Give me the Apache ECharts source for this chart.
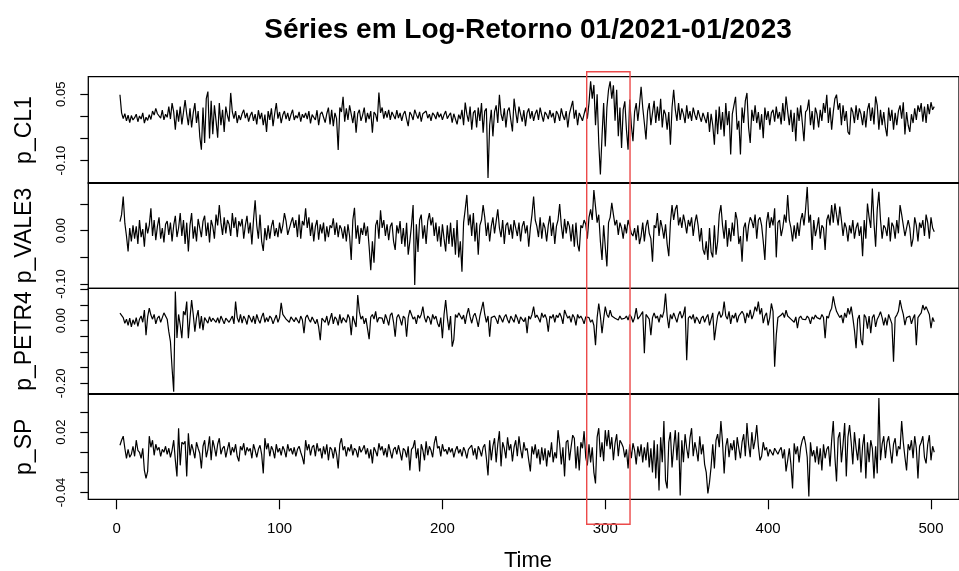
<!DOCTYPE html>
<html><head><meta charset="utf-8">
<script src="https://cdn.jsdelivr.net/npm/echarts@6/dist/echarts.min.js"></script>
<style>html,body{margin:0;padding:0;background:#fff}#c{width:959px;height:571px}</style>
</head><body><div id="c"></div>
<script>
// Time index of the first log-return
const timeStart = 2;
const seriesNames = ['p_CL1', 'p_VALE3', 'p_PETR4', 'p_SP'];
// Log-returns, in units of 0.001
const p_CL1 = [49,8,-5,6,-10,3,-14,2,-8,-3,
5,-12,1,-6,8,-15,-2,-9,4,-7,
12,3,18,6,10,-4,14,-8,5,-2,
22,-6,30,10,-30,15,-12,22,-18,9,
37,5,-20,18,-25,8,30,-15,12,-45,
-75,20,-60,40,56,-50,35,-40,25,-10,
-48,30,-20,15,-35,22,2,-12,53,10,
-5,12,-15,3,-8,6,15,-4,8,-12,
2,10,-10,5,-18,14,-6,8,-20,4,
-35,12,-8,18,-22,6,30,-5,10,-15,
3,12,-6,8,-10,4,15,-8,2,-4,
10,-12,5,-3,8,-6,12,-16,4,7,
-8,14,-20,5,10,-2,-14,6,20,-18,
15,-22,8,-5,-76,20,10,44,-12,18,
-8,25,5,-15,12,-37,6,15,-10,3,
20,-14,8,-6,12,-37,10,4,-12,54,
8,20,-5,12,-3,15,-8,10,2,-6,
14,-4,8,-10,5,12,-6,-22,10,3,
-8,15,4,-5,10,-12,6,2,12,-4,
5,-10,8,3,-6,10,-2,6,-8,4,
12,-5,2,8,-14,6,10,-18,4,-6,
15,-20,31,5,-12,22,-30,8,14,-25,
20,-10,30,-37,12,18,-139,-20,15,-45,
10,25,-15,49,5,-10,18,-25,12,20,
-8,-34,40,10,-15,22,5,-12,14,-22,
8,18,-5,12,-10,6,15,-8,20,3,
-12,10,4,-6,14,-2,8,-15,12,5,
-10,18,2,-8,12,-25,6,10,35,-5,
15,-20,8,12,-10,5,20,-5,30,79,
40,71,-20,50,-60,-131,-45,30,-68,20,
60,79,40,70,-10,60,-45,20,-71,15,
34,-30,-75,38,-20,-56,10,30,-10,25,
67,20,-15,-52,12,30,-20,8,35,-15,
22,-10,40,-25,15,5,-30,10,-64,20,
60,15,-10,30,-8,18,5,-15,25,-5,
12,-10,20,4,-8,14,0,-12,8,5,
-15,10,-35,6,-20,-64,15,-40,22,-30,
10,-45,30,-20,12,-86,5,25,44,-30,
-10,-86,20,-15,35,53,-25,-60,15,-10,
25,-15,10,-30,5,-49,20,-8,12,-20,
8,15,-12,22,-5,10,-18,30,-10,45,
12,-20,15,-35,8,-56,20,-10,25,-15,
-56,10,15,38,-20,12,-30,20,5,-25,
15,-10,30,8,49,-15,20,-30,10,40,
49,15,30,-20,25,-10,12,-35,-41,20,
10,-15,25,-8,18,5,-20,12,-25,15,
30,-10,20,-18,45,25,-30,15,-20,10,
-25,-45,20,-10,15,-30,8,-20,12,25,
-5,32,-41,10,-20,-35,5,-15,18,-8,
25,10,30,-12,22,-15,28,5,32,15,
22];
const p_VALE3 = [17,30,64,14,-10,-39,5,-20,10,-15,
8,-25,20,-12,3,-30,15,-5,10,42,
-10,20,-18,8,25,-15,5,-22,12,18,
-8,15,-20,10,28,-12,5,33,-10,20,
-25,15,-39,10,33,-15,8,-20,22,5,
-12,18,28,-10,15,-22,20,8,-15,30,
10,48,15,-8,25,-5,20,12,-10,33,
5,25,-12,18,8,22,-15,10,28,-5,
15,-26,20,57,10,-15,30,-20,-38,5,
-18,10,-15,8,20,-10,5,-12,15,-5,
10,33,18,-8,-11,15,25,5,20,-12,
30,-15,18,10,42,5,25,-10,15,-20,
8,20,-17,12,-5,15,-20,8,-12,10,
5,23,-8,15,-12,10,3,-15,8,-20,
12,-10,-55,20,43,-15,10,-25,5,-8,
15,-10,8,-30,-74,-20,-60,10,20,-15,
38,5,20,-10,12,-18,8,15,-20,-36,
10,-5,18,-25,5,-30,15,-45,-20,10,
48,-102,12,-40,20,30,-15,10,-25,18,
33,10,25,-10,15,-20,8,-30,12,-15,
-39,10,-25,15,-30,5,-45,20,-50,-20,
-77,15,40,67,10,30,-10,33,-20,15,
-45,10,20,48,25,-10,15,-20,8,25,
-5,18,40,5,-12,20,-25,10,15,-8,
12,-15,20,5,-10,15,-20,8,18,-5,
10,-30,5,30,64,20,8,-12,25,-15,
15,5,-20,10,28,-10,15,-25,8,20,
50,10,-15,22,-5,18,8,-20,12,-30,
15,-25,-39,10,5,20,12,-15,25,40,
20,76,45,15,30,-20,-55,10,-30,-67,
15,25,52,30,10,20,-8,15,5,-15,
12,-5,20,8,-5,-10,5,-18,10,-25,
-10,15,-20,8,20,-5,-15,-58,10,5,
33,-10,20,5,-15,12,-25,-48,15,48,
20,40,48,10,25,5,30,15,-5,20,
8,25,-10,15,30,10,-20,5,-35,-45,
-20,-55,5,-40,-50,10,-45,-20,30,48,
10,-15,20,-30,5,-20,15,-10,35,20,
-25,-10,-58,5,15,-20,10,25,18,5,
30,-15,20,25,10,-20,-55,15,35,5,
25,10,42,-50,15,20,-10,5,30,15,
67,20,5,-20,10,-15,15,-10,20,33,
10,40,82,15,30,-36,20,-10,5,25,
-15,10,5,-36,20,30,10,48,15,51,
30,10,45,20,-10,15,5,-20,10,-5,
20,-15,5,15,-10,8,-48,20,-15,51,
25,5,79,15,-30,40,73,20,-15,10,
5,-10,25,-20,15,8,-15,20,-5,48,
30,10,-10,-11,20,5,-30,-15,25,10,
-20,15,5,20,-10,30,15,-15,25,5,
-2];
const p_PETR4 = [24,18,10,-8,5,-15,8,-20,3,-12,
10,-18,5,15,-5,34,-46,12,40,18,
5,20,-10,8,15,-5,10,25,29,5,
-35,-67,-152,-227,93,-55,20,-13,-56,30,
18,61,-56,8,66,20,-35,10,34,-25,
15,-30,10,5,-8,13,-3,8,2,-5,
10,-8,15,3,-10,8,12,-5,5,15,
-10,61,10,-5,20,-8,15,5,-12,18,
8,-5,15,-10,20,3,-8,12,25,-5,
10,-3,15,8,-10,5,18,-5,10,57,
20,15,5,10,-5,12,8,-3,10,5,
-8,15,3,-40,10,18,5,-5,12,8,
-10,5,-20,-62,8,10,-5,15,-15,5,
24,-10,12,5,-15,20,-8,10,15,-5,
20,8,-46,15,10,-20,82,29,5,15,
-10,8,-25,-59,12,20,5,30,-5,10,
15,8,-10,20,5,-15,18,25,-5,-51,
10,20,5,-15,15,8,-51,10,34,20,
5,12,-10,18,8,20,45,10,-5,15,
8,-12,20,5,15,-8,-20,10,-56,20,
66,10,-30,15,-83,-60,20,10,25,15,
5,18,-10,20,40,12,-8,15,24,5,
-20,15,10,60,20,-5,15,-51,10,8,
15,5,-10,18,8,-5,12,20,3,-8,
15,10,-5,20,8,-10,12,18,-3,10,
-40,15,5,20,45,10,18,8,-5,25,
10,20,5,-35,15,8,20,-5,18,10,
25,12,-10,34,20,8,15,-5,20,10,
-15,20,8,15,5,-10,12,18,10,-5,
3,-15,-78,10,55,15,-40,5,45,20,
10,34,15,20,8,12,2,15,5,10,
8,15,2,20,12,-5,10,40,5,12,
8,29,-104,20,18,5,-46,10,25,8,
15,-5,20,10,30,87,15,-24,20,5,
25,10,-5,18,30,8,20,45,-126,8,
15,5,20,-8,12,3,-10,8,15,-5,
10,20,-15,5,25,-62,-20,15,30,10,
20,61,15,5,30,-10,18,8,25,-5,
15,10,30,20,-8,25,10,35,5,20,
45,30,61,20,40,-8,15,25,-15,10,
55,30,-147,-46,10,5,18,25,10,34,
15,20,5,10,-5,12,-24,8,15,5,
10,3,15,8,-10,12,5,18,10,15,
5,20,10,-56,15,8,29,40,78,50,
30,20,10,18,-8,25,10,40,20,45,
10,-30,-88,5,18,-60,-78,20,10,-25,
15,-40,10,20,-20,5,15,29,10,-15,
10,-15,20,5,-10,-131,10,18,30,66,
40,20,-14,10,5,15,-10,8,20,-78,
10,18,25,50,34,45,40,20,-24,10,
-3];
const p_SP = [7,12,16,4,-6,3,-5,-2,6,-4,
12,2,0,-6,4,-18,-26,-19,16,5,
12,-3,8,2,5,-4,3,0,6,-2,
4,-5,2,12,-8,-24,24,-13,10,8,
11,-24,19,-3,8,2,-6,10,4,-1,
-16,6,12,-5,3,16,-8,12,5,-4,
8,14,-2,4,6,-5,3,10,-3,5,
0,8,-4,-9,6,2,9,-3,5,1,
4,-6,8,2,-5,3,7,-2,-21,14,
3,9,-4,6,2,-6,8,0,4,-3,
6,2,-5,8,1,4,-2,5,-4,3,
6,0,-5,-12,12,2,8,-3,5,7,
-4,9,1,4,-6,6,-2,8,-8,5,
3,-6,5,-2,-16,8,14,2,6,-4,
5,1,8,-3,4,2,-5,6,0,3,
7,-2,4,-6,3,-11,5,1,-4,9,
2,6,-3,4,-5,8,1,-6,3,5,
-2,7,0,-8,4,2,-5,6,-18,3,
5,12,-6,4,-19,8,2,-8,11,-3,
6,2,-5,9,16,4,6,-4,8,1,
3,-2,5,0,4,-5,2,6,-1,3,
-4,5,1,-6,3,2,7,-3,4,-7,
6,2,-4,5,8,-6,-23,12,-8,6,
14,-10,8,21,-14,10,4,-6,15,2,
8,-9,5,12,-4,16,3,-6,10,2,
4,-8,-19,6,-2,8,-6,3,-12,5,
-8,4,-14,2,-5,10,-10,0,-6,22,
8,-12,5,-24,10,12,-8,5,17,14,
-16,6,-18,10,4,21,-5,-13,8,-10,
5,-20,-31,15,24,-5,10,-9,22,6,
22,3,15,-8,9,18,-4,12,9,5,
-5,3,-16,8,-6,9,2,-12,6,-4,
8,-10,5,-8,10,-15,4,-20,12,-26,
8,-38,15,-10,31,-28,-36,10,20,-15,
5,22,-8,20,-43,12,-10,18,4,-6,
14,24,-4,10,2,-9,16,-2,8,-12,
-20,-41,-30,-14,8,-16,12,18,5,31,
10,-21,6,14,-5,9,2,12,-8,15,
4,-6,10,18,-4,29,8,-5,20,3,
12,27,6,-8,-4,10,2,5,-4,3,
0,-3,4,1,-2,2,5,-6,3,-19,
-8,4,-12,-36,9,-2,6,-10,5,12,
16,8,-5,-44,10,-4,2,-10,6,-12,
4,-18,8,-6,3,6,-14,12,31,-5,
-29,14,20,-10,8,29,-24,15,27,10,
-12,20,4,-8,14,-20,6,18,-26,10,
-10,12,4,-26,6,-21,54,-8,8,16,
-6,10,16,2,-11,8,14,-4,6,3,
31,10,-5,-18,8,2,12,-6,16,4,
-26,6,10,16,-5,-11,8,17,-8,6,
0];
const seriesValues = [p_CL1, p_VALE3, p_PETR4, p_SP];

const xTickValues = [0, 100, 200, 300, 400, 500];
// visible part of the time axis (the plot continues past the right edge of the picture)
const xRange = [-17.44, 517.2];
const yTickValues = [
  [0.05, 0, -0.05, -0.10],
  [0.05, 0, -0.05, -0.10],
  [0.10, 0.05, 0, -0.05, -0.10, -0.15, -0.20],
  [0.04, 0.02, 0, -0.02, -0.04]
];
const yLabelValues = [[0.05, -0.10], [0, -0.10], [0, -0.20], [0.02, -0.04]];
const yRanges = [[-0.151, 0.0896], [-0.108, 0.0899], [-0.233, 0.1035], [-0.0468, 0.0577]];
const highlightRange = [288.6, 315.2];
const titleText = 'Séries em Log-Retorno 01/2021-01/2023';
const xAxisTitle = 'Time';

// layout
const FONT = '"Liberation Sans", Arial, sans-serif';
const plotLeft = 88.3;
const plotCenterX = 528;
const panelTops = [76.7, 182.7, 288.3, 394.3];
const panelHeights = [106.6, 105.6, 105.4, 105.0];

const chart = echarts.init(document.getElementById('c'), null, {renderer: 'canvas'});

const grids = [], xAxes = [], yAxes = [], series = [], graphics = [];
for (let i = 0; i < 4; i++) {
  grids.push({left: plotLeft, top: panelTops[i], right: 0, height: panelHeights[i],
    show: true, borderColor: '#000', borderWidth: 1.3, backgroundColor: 'transparent', containLabel: false});
  const isBottom = i === 3;
  xAxes.push({type: 'value', gridIndex: i, min: xRange[0], max: xRange[1], show: isBottom,
    position: 'bottom',
    axisLine: {show: false, onZero: false}, splitLine: {show: false},
    axisTick: {show: isBottom, inside: false, length: 10, lineStyle: {color: '#000', width: 1.2}, customValues: xTickValues},
    axisLabel: {show: isBottom, margin: 22, color: '#000', fontSize: 15, fontFamily: FONT, customValues: xTickValues,
      formatter: v => String(v)}
  });
  yAxes.push({type: 'value', gridIndex: i, min: yRanges[i][0], max: yRanges[i][1], position: 'left',
    axisLine: {show: false, onZero: false}, splitLine: {show: false},
    axisTick: {show: true, inside: false, length: 8, lineStyle: {color: '#000', width: 1.2}, customValues: yTickValues[i]},
    axisLabel: {show: true, rotate: 90, margin: 20, color: '#000', fontSize: 13, fontFamily: FONT,
      customValues: yLabelValues[i], formatter: v => v.toFixed(2)}
  });
  series.push({type: 'line', name: seriesNames[i], xAxisIndex: i, yAxisIndex: i,
    data: seriesValues[i].map((v, k) => [timeStart + k, v / 1000]),
    showSymbol: false, symbol: 'none', sampling: null, clip: true,
    lineStyle: {color: '#000', width: 1.2}, animation: false, silent: true});
  graphics.push({type: 'text', x: 25, y: panelTops[i] + panelHeights[i] / 2, rotation: Math.PI / 2,
    style: {text: seriesNames[i], fontSize: 23, fontFamily: FONT, fill: '#000',
      textAlign: 'center', textVerticalAlign: 'middle', align: 'center', verticalAlign: 'middle'}});
}
graphics.push({type: 'text', x: plotCenterX, y: 30,
  style: {text: titleText, fontSize: 28, fontWeight: 'bold', fontFamily: FONT, fill: '#000',
    textAlign: 'center', textVerticalAlign: 'middle', align: 'center', verticalAlign: 'middle'}});
graphics.push({type: 'text', x: plotCenterX, y: 561,
  style: {text: xAxisTitle, fontSize: 22, fontFamily: FONT, fill: '#000',
    textAlign: 'center', textVerticalAlign: 'middle', align: 'center', verticalAlign: 'middle'}});

chart.setOption({animation: false, backgroundColor: '#fff', grid: grids, xAxis: xAxes, yAxis: yAxes, series: series, graphic: graphics});

// highlight box around the selected time window (x from data, spans all panels)
const hx0 = chart.convertToPixel({xAxisIndex: 0}, highlightRange[0]);
const hx1 = chart.convertToPixel({xAxisIndex: 0}, highlightRange[1]);
graphics.push({type: 'rect', shape: {x: hx0, y: 71.7, width: hx1 - hx0, height: 452.6},
  style: {fill: 'none', stroke: '#ec4a4a', lineWidth: 1.4}, z: 100});
chart.setOption({graphic: graphics});
</script></body></html>
